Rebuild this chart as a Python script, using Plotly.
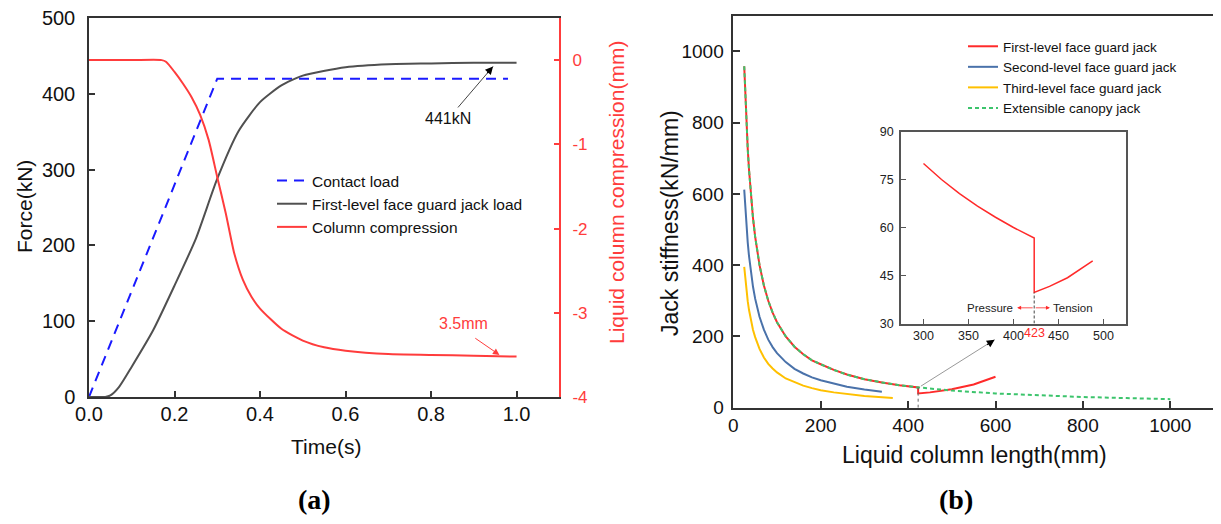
import plotly.graph_objects as go

W, H = 1221, 524
PAGE_OFF = 8  # default page body margin in the browser

# ---------------- Panel (a) data ----------------
time_contact = [0.0, 0.3, 0.98]
contact_load = [0, 420, 420]

time_jack = [0.0, 0.02, 0.038, 0.05, 0.07, 0.1, 0.15, 0.2, 0.25, 0.3, 0.35, 0.4,
             0.45, 0.5, 0.6, 0.7, 0.8, 0.9, 1.0]
jack_load = [0, 0, 0, 2, 13, 40, 88, 147, 209, 288, 351, 389, 411, 424, 435, 439,
             440, 441, 441]

time_comp = [0.0, 0.1, 0.17, 0.18, 0.2, 0.22, 0.24, 0.26, 0.28, 0.3, 0.32, 0.34,
             0.36, 0.38, 0.4, 0.45, 0.5, 0.55, 0.6, 0.7, 0.8, 0.9, 1.0]
compression = [0, 0, 0, -0.02, -0.14, -0.28, -0.44, -0.65, -0.95, -1.39, -1.82,
               -2.30, -2.61, -2.81, -2.95, -3.19, -3.33, -3.41, -3.45, -3.49,
               -3.50, -3.51, -3.52]
comp_ticks = [-4, -3, -2, -1, 0]
comp_ticktext = ["-4", "-3", "-2", "-1", "0"]

# ---------------- Panel (b) data ----------------
len_canopy = [25, 27, 30, 33, 36, 40, 45, 50, 55, 60, 70, 80, 90, 100, 120, 140,
              160, 180, 200, 230, 260, 300, 340, 380, 423, 500, 600, 700, 800,
              900, 1000]
k_canopy = [958, 889, 800, 727, 667, 600, 533, 480, 436, 400, 343, 300, 267, 240,
            200, 171, 150, 133, 122, 106, 93, 80, 71, 63, 57, 48, 40, 34, 30, 27,
            24]

len_first = [25, 27, 30, 33, 36, 40, 45, 50, 55, 60, 70, 80, 90, 100, 120, 140,
             160, 180, 200, 230, 260, 300, 340, 380, 423, 423, 450, 500, 550, 600]
k_first = [958, 889, 800, 727, 667, 600, 533, 480, 436, 400, 343, 300, 267, 240,
           200, 171, 150, 133, 122, 106, 93, 80, 71, 63, 57, 40, 43, 52, 65, 87]

len_second = [25, 27, 30, 33, 36, 40, 45, 50, 55, 60, 70, 80, 90, 100, 120, 140,
              160, 180, 200, 230, 260, 300, 340]
k_second = [612, 567, 510, 464, 425, 383, 340, 306, 278, 255, 219, 191, 170, 153,
            128, 109, 96, 85, 77, 67, 59, 51, 45]

len_third = [25, 27, 30, 33, 36, 40, 45, 50, 55, 60, 70, 80, 90, 100, 120, 140,
             160, 180, 200, 230, 260, 300, 365]
k_third = [395, 366, 329, 299, 274, 247, 219, 198, 180, 165, 141, 123, 110, 99,
           82, 71, 62, 55, 49, 43, 38, 33, 27]

inset_len = [300, 320, 340, 360, 380, 400, 423, 423, 440, 460, 488]
inset_k = [80, 75, 70.6, 66.7, 63.2, 60, 56.7, 39.7, 41.6, 44.3, 49.6]

inset_xticks = [300, 350, 400, 450, 500]
inset_yticks = [30, 45, 60, 75, 90]
split_len = 423

# ---------------- styling ----------------
FONT = "Arial, Liberation Sans, sans-serif"
RED_A = "#ff3c3c"
BLUE_A = "#1a1aff"
GRAY_A = "#505050"
RED_B = "#ff2a2a"
BLUE_B = "#4a72aa"
YEL_B = "#ffc000"
GRN_B = "#3cc46c"
AX = "#333333"


def px(x):
    return (x - PAGE_OFF) / W


def py(y):
    return 1 - (y - PAGE_OFF) / H


fig = go.Figure()

# Panel (a)
fig.add_trace(go.Scatter(x=time_contact, y=contact_load, mode="lines",
                         name="Contact load", legend="legend",
                         line=dict(color=BLUE_A, width=2, dash="10px,7px"),
                         xaxis="x", yaxis="y"))
fig.add_trace(go.Scatter(x=time_jack, y=jack_load, mode="lines",
                         name="First-level face guard jack load", legend="legend",
                         line=dict(color=GRAY_A, width=2, shape="spline", smoothing=0.6),
                         xaxis="x", yaxis="y"))
fig.add_trace(go.Scatter(x=time_comp, y=compression, mode="lines",
                         name="Column compression", legend="legend",
                         line=dict(color=RED_A, width=2, shape="spline", smoothing=0.6),
                         xaxis="x", yaxis="y2"))

# Panel (b)
fig.add_trace(go.Scatter(x=len_first, y=k_first, mode="lines",
                         name="First-level face guard jack", legend="legend2",
                         line=dict(color=RED_B, width=2), xaxis="x2", yaxis="y3"))
fig.add_trace(go.Scatter(x=len_second, y=k_second, mode="lines",
                         name="Second-level face guard jack", legend="legend2",
                         line=dict(color=BLUE_B, width=2), xaxis="x2", yaxis="y3"))
fig.add_trace(go.Scatter(x=len_third, y=k_third, mode="lines",
                         name="Third-level face guard jack", legend="legend2",
                         line=dict(color=YEL_B, width=2), xaxis="x2", yaxis="y3"))
fig.add_trace(go.Scatter(x=len_canopy, y=k_canopy, mode="lines",
                         name="Extensible canopy jack", legend="legend2",
                         line=dict(color=GRN_B, width=2, dash="4px,3px"),
                         xaxis="x2", yaxis="y3"))
fig.add_trace(go.Scatter(x=[split_len, split_len], y=[0, 57], mode="lines",
                         showlegend=False,
                         line=dict(color="#666666", width=1, dash="dot"),
                         xaxis="x2", yaxis="y3"))

# Inset
fig.add_trace(go.Scatter(x=inset_len, y=inset_k, mode="lines", showlegend=False,
                         line=dict(color=RED_B, width=1.5), xaxis="x3", yaxis="y4"))
fig.add_trace(go.Scatter(x=[split_len, split_len], y=[30, 39.7], mode="lines",
                         showlegend=False,
                         line=dict(color="#444444", width=1, dash="3px,2px"),
                         xaxis="x3", yaxis="y4"))

axis_common = dict(showgrid=False, zeroline=False, showline=True, ticks="inside",
                   linecolor=AX, linewidth=1.5, tickcolor=AX, tickwidth=1.5,
                   automargin=False, ticklabeloverflow="allow")

fig.update_layout(
    template="none",
    width=W, height=H, autosize=False,
    margin=dict(l=0, r=0, t=0, b=0, pad=0),
    paper_bgcolor="white", plot_bgcolor="white",
    font=dict(family=FONT, color="#111111"),
    xaxis=dict(domain=[px(89), px(559.3)], anchor="y", range=[0, 1.1],
               tickvals=[0, 0.2, 0.4, 0.6, 0.8, 1.0],
               ticktext=["0.0", "0.2", "0.4", "0.6", "0.8", "1.0"],
               ticklen=6, mirror=True, tickfont=dict(size=20),
               ticklabelstandoff=-2, **axis_common),
    yaxis=dict(domain=[py(397), py(18)], anchor="x", range=[0, 500],
               tickvals=[0, 100, 200, 300, 400, 500], ticklen=6,
               tickfont=dict(size=20), ticklabelstandoff=8, **axis_common),
    yaxis2=dict(overlaying="y", side="right", anchor="x", range=[-4, 0.5],
                tickvals=comp_ticks, ticktext=comp_ticktext,
                showgrid=False, zeroline=False,
                showline=True, ticks="inside", ticklen=6, linecolor=RED_A,
                linewidth=1.5, tickcolor=RED_A, tickwidth=1.5, automargin=False,
                ticklabeloverflow="allow",
                tickfont=dict(size=17, color=RED_A), ticklabelstandoff=8),
    xaxis2=dict(domain=[px(733.3), px(1214)], anchor="y3", range=[0, 1100],
                tickvals=[0, 200, 400, 600, 800, 1000], ticklen=7, mirror=True,
                tickfont=dict(size=19), ticklabelstandoff=0, **axis_common),
    yaxis3=dict(domain=[py(407.7), py(15.7)], anchor="x2", range=[0, 1100],
                tickvals=[0, 200, 400, 600, 800, 1000], ticklen=7, mirror=True,
                tickfont=dict(size=19), ticklabelstandoff=4, **axis_common),
    xaxis3=dict(domain=[px(901), px(1126)], anchor="y4", range=[275, 525],
                tickvals=inset_xticks, ticklen=5, mirror=True, automargin=False,
                ticklabeloverflow="allow",
                tickfont=dict(size=12.5, color="#222222"), ticklabelstandoff=0,
                showgrid=False, zeroline=False, showline=True, ticks="inside",
                linecolor="#555555", linewidth=1.5, tickcolor="#555555"),
    yaxis4=dict(domain=[py(323.5), py(131.5)], anchor="x3", range=[30, 90],
                tickvals=inset_yticks, ticklen=5, mirror=True, automargin=False,
                ticklabeloverflow="allow",
                tickfont=dict(size=12.5, color="#222222"), ticklabelstandoff=3,
                showgrid=False, zeroline=False, showline=True, ticks="inside",
                linecolor="#555555", linewidth=1.5, tickcolor="#555555"),
    legend=dict(x=px(272), y=py(164), xanchor="left", yanchor="top",
                bgcolor="rgba(0,0,0,0)", font=dict(size=15.5, color="#111111"),
                itemwidth=30, tracegroupgap=0, borderwidth=0),
    legend2=dict(x=px(963), y=py(31), xanchor="left", yanchor="top",
                 bgcolor="rgba(0,0,0,0)", font=dict(size=13.5, color="#111111"),
                 itemwidth=30, tracegroupgap=0, borderwidth=0),
)

C = dict(xanchor="center", yanchor="middle", showarrow=False)
SERIF = "Liberation Serif, Times New Roman, serif"
ann = []
# axis titles
ann.append(dict(text="Force(kN)", x=px(24), y=py(207), xref="paper", yref="paper",
                textangle=-90, font=dict(size=21), **C))
ann.append(dict(text="Time(s)", x=px(326), y=py(446), xref="paper", yref="paper",
                font=dict(size=21), **C))
ann.append(dict(text="Liquid column compression(mm)", x=px(616), y=py(193),
                xref="paper", yref="paper", textangle=-90,
                font=dict(size=21, color=RED_A), **C))
ann.append(dict(text="Jack stiffness(kN/mm)", x=px(670), y=py(223), xref="paper",
                yref="paper", textangle=-90, font=dict(size=23), **C))
ann.append(dict(text="Liquid column length(mm)", x=px(974), y=py(455),
                xref="paper", yref="paper", font=dict(size=23), **C))
ann.append(dict(text="<b>(a)</b>", x=px(314), y=py(499), xref="paper", yref="paper",
                font=dict(size=28, family=SERIF, color="#000000"), **C))
ann.append(dict(text="<b>(b)</b>", x=px(956), y=py(499), xref="paper", yref="paper",
                font=dict(size=28, family=SERIF, color="#000000"), **C))

# 441kN annotation
ann.append(dict(text="441kN", x=0.839, y=368, xref="x", yref="y",
                font=dict(size=16, color="#111111"), **C))
ann.append(dict(text="", x=0.945, y=436, xref="x", yref="y", ax=0.86, ay=380,
                axref="x", ayref="y", showarrow=True, arrowhead=0, arrowwidth=1,
                arrowcolor="#444444", standoff=0))
ann.append(dict(text="", x=0.945, y=436, xref="x", yref="y", ax=-7, ay=8,
                showarrow=True, arrowhead=2, arrowsize=1.3, arrowwidth=1.2,
                arrowcolor="#000000", standoff=0))
# 3.5mm annotation
ann.append(dict(text="3.5mm", x=0.875, y=-3.13, xref="x", yref="y2",
                font=dict(size=16, color=RED_A), **C))
ann.append(dict(text="", x=0.96, y=-3.50, xref="x", yref="y2", ax=0.90, ay=-3.29,
                axref="x", ayref="y2", showarrow=True, arrowhead=2, arrowsize=1.3,
                arrowwidth=1, arrowcolor=RED_A, standoff=0))

# arrow from main curve to inset
ann.append(dict(text="", x=598, y=191, xref="x2", yref="y3", ax=426, ay=58,
                axref="x2", ayref="y3", showarrow=True, arrowhead=0, arrowwidth=1,
                arrowcolor="#999999", standoff=0))
ann.append(dict(text="", x=598, y=191, xref="x2", yref="y3", ax=-9, ay=6,
                showarrow=True, arrowhead=2, arrowsize=1.3, arrowwidth=1.2,
                arrowcolor="#000000", standoff=0))

# inset texts
ann.append(dict(text="423", x=423, y=py(333), xref="x3", yref="paper",
                font=dict(size=12.5, color=RED_B), **C))
ann.append(dict(text="Pressure", x=374, y=34.9, xref="x3", yref="y4",
                font=dict(size=11.5, color="#222222"), **C))
ann.append(dict(text="Tension", x=465.6, y=34.9, xref="x3", yref="y4",
                font=dict(size=11.5, color="#222222"), **C))
ann.append(dict(text="", x=404, y=34.9, xref="x3", yref="y4", ax=423, ay=34.9,
                axref="x3", ayref="y4", showarrow=True, arrowhead=2, arrowsize=1,
                arrowwidth=0.8, arrowcolor=RED_B, standoff=0))
ann.append(dict(text="", x=440.5, y=34.9, xref="x3", yref="y4", ax=423, ay=34.9,
                axref="x3", ayref="y4", showarrow=True, arrowhead=2, arrowsize=1,
                arrowwidth=0.8, arrowcolor=RED_B, standoff=0))

fig.update_layout(annotations=ann)
fig.write_html("out.html")
